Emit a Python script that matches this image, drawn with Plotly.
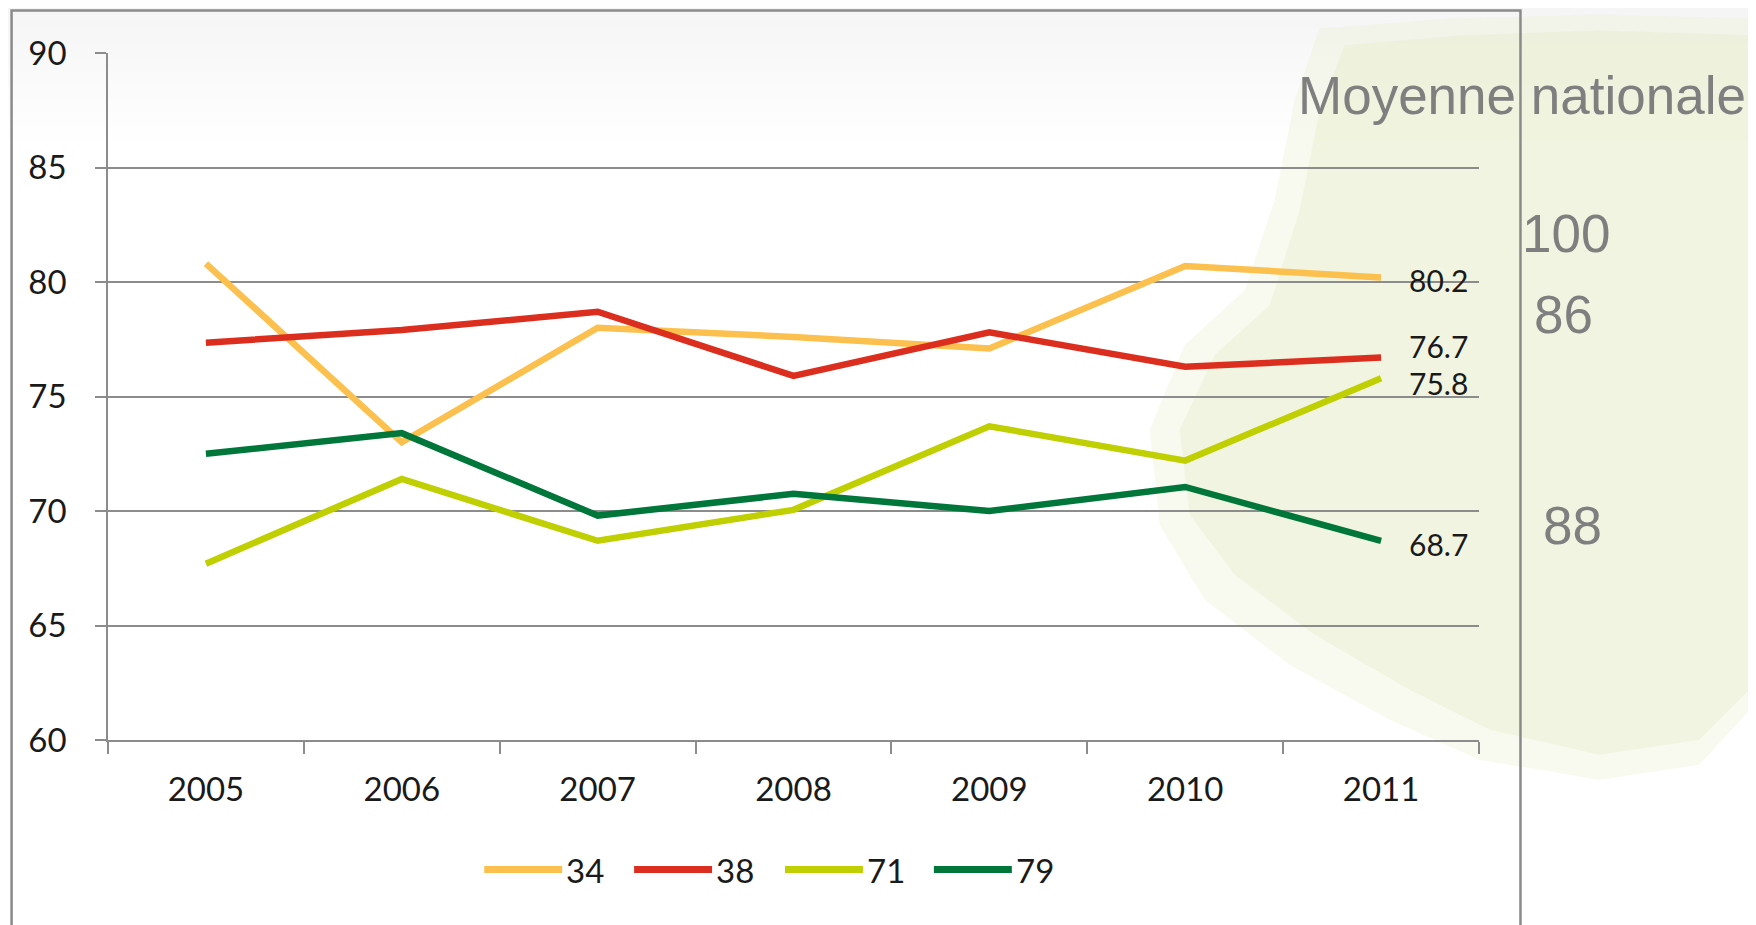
import plotly.graph_objects as go

# data
years = ["2005", "2006", "2007", "2008", "2009", "2010", "2011"]
names = ["34", "38", "71", "79"]
s34 = [80.8, 73.0, 78.0, 77.6, 77.1, 80.7, 80.2]
s38 = [77.35, 77.9, 78.7, 75.9, 77.8, 76.3, 76.7]
s71 = [67.7, 71.4, 68.7, 70.05, 73.7, 72.2, 75.8]
s79 = [72.5, 73.4, 69.8, 70.75, 70.0, 71.05, 68.7]
colors = ["#FCC04E", "#DB2E1E", "#BFCF00", "#00773A"]
label_shift = [-3, 12, -5, -3]  # nudge end labels so they don't collide

side_title = "Moyenne nationale"
side_values = ["100", "86", "88"]

W, H = 1756, 925
OFF = 8  # page body margin
# plot area in screen pixels
L, R, T, B = 107.5, 1479.5, 52.6, 740.3


def px(x):
    return (x - L) / (R - L)


def py(y):
    return (B - y) / (B - T)


fig = go.Figure()
series = [s34, s38, s71, s79]
for nm, vals, col in zip(names, series, colors):
    fig.add_trace(go.Scatter(x=years, y=vals, mode="lines", name=nm,
                             line=dict(color=col, width=6.5),
                             showlegend=False, hoverinfo="x+y+name"))

shapes = []
# soft grey band at the top
for i in range(10):
    shapes.append(dict(type="rect", xref="paper", yref="paper", layer="below",
                       x0=px(0), x1=px(W), y0=py(15 + i * 14), y1=py(0),
                       fillcolor="rgba(230,233,240,0.06)", line=dict(width=0)))
# pale tree silhouette on the right (soft outer halo + inner crown)
outer = [(1320, 28), (1450, 18), (1600, 14), (1760, 18), (1760, 700), (1700, 765),
         (1600, 780), (1480, 760), (1390, 720), (1290, 665), (1205, 600), (1160, 525),
         (1150, 430), (1185, 345), (1245, 290), (1275, 200), (1295, 100)]
inner = [(1345, 45), (1460, 35), (1600, 30), (1760, 35), (1760, 680), (1700, 740),
         (1600, 755), (1490, 730), (1410, 690), (1315, 635), (1235, 575), (1190, 515),
         (1180, 430), (1215, 355), (1270, 305), (1300, 210), (1320, 110)]
for pts, col in [(outer, "rgba(232,237,205,0.30)"), (inner, "rgba(228,234,190,0.32)")]:
    path = "M " + " L ".join("%.4f,%.4f" % (px(x), py(y)) for x, y in pts) + " Z"
    shapes.append(dict(type="path", xref="paper", yref="paper", layer="below", path=path,
                       fillcolor=col, line=dict(width=0)))
# frame around the chart
shapes.append(dict(type="rect", xref="paper", yref="paper",
                   x0=px(11), x1=px(1521), y0=py(960), y1=py(10),
                   line=dict(color="#8A8A8A", width=2.5)))

annotations = []
# end-of-line labels (x given as category index of the last year)
last = len(years) - 1
for vals, sh in zip(series, label_shift):
    annotations.append(dict(xref="x", yref="y", x=last, y=vals[-1],
                            text="%.1f" % vals[-1],
                            xanchor="left", yanchor="middle", xshift=26, yshift=sh,
                            showarrow=False, font=dict(size=30, color="#1A1A1A")))

# legend drawn by hand so the keys match the long line swatches
leg_x = [484, 634, 785, 934]
leg_y = 870
for nm, col, x0 in zip(names, colors, leg_x):
    shapes.append(dict(type="line", xref="paper", yref="paper",
                       x0=px(x0), x1=px(x0 + 78), y0=py(leg_y), y1=py(leg_y),
                       line=dict(color=col, width=7)))
    annotations.append(dict(xref="paper", yref="paper", x=px(x0 + 80), y=py(leg_y),
                            text=nm, xanchor="left", yanchor="middle", showarrow=False,
                            font=dict(size=33, color="#1A1A1A")))

# national average column
grey = "#7F7F7F"
annotations.append(dict(xref="paper", yref="paper", x=px(1523), y=py(95),
                        text=side_title, xanchor="center", yanchor="middle",
                        showarrow=False, font=dict(family="Liberation Sans, Arial", size=53, color=grey)))
for txt, xl, yc in zip(side_values, [1521, 1533, 1542], [233, 314, 526]):
    annotations.append(dict(xref="paper", yref="paper", x=px(xl), y=py(yc),
                            text=txt, xanchor="left", yanchor="middle", showarrow=False,
                            font=dict(family="Liberation Sans, Arial", size=53, color=grey)))

fig.update_layout(
    width=W, height=H,
    margin=dict(l=L - OFF, r=W - R + OFF, t=T - OFF, b=H - B + OFF, pad=0),
    paper_bgcolor="white", plot_bgcolor="rgba(0,0,0,0)",
    font=dict(family="Lato, Open Sans, sans-serif", size=33, color="#1A1A1A"),
    shapes=shapes, annotations=annotations,
    showlegend=False,
)
fig.update_xaxes(type="category", range=[-0.5, 6.5], showgrid=False,
                 showline=True, linecolor="#8C8C8C", linewidth=1.5,
                 ticks="outside", tickson="boundaries", ticklen=12,
                 tickcolor="#8C8C8C", tickwidth=1.5, ticklabelstandoff=20)
fig.update_yaxes(range=[60, 90], dtick=5, showgrid=True, gridcolor="#8C8C8C",
                 gridwidth=1.5, zeroline=False, showline=True, linecolor="#8C8C8C",
                 linewidth=1.5, ticks="outside", ticklen=11, tickcolor="#8C8C8C",
                 tickwidth=1.5, ticklabelstandoff=22)

fig.write_html("out.html")
